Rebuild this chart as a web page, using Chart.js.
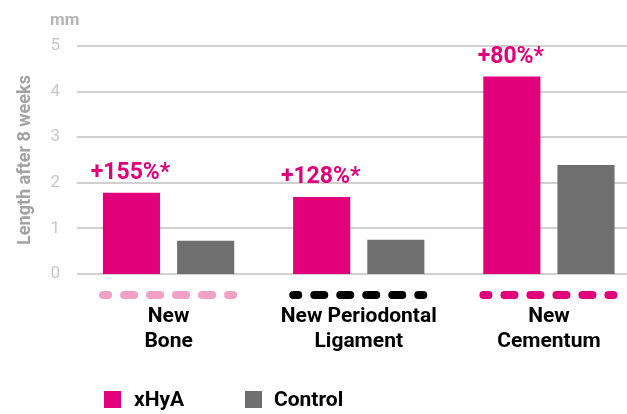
<!DOCTYPE html>
<html>
<head>
<meta charset="utf-8">
<script src="https://cdn.jsdelivr.net/npm/chart.js@4/dist/chart.umd.min.js"></script>
<style>
  html, body { margin: 0; padding: 0; background: #fff; overflow: hidden; width: 627px; height: 414px; }
  #wrap { position: relative; width: 627px; height: 414px; overflow: hidden; }
  canvas { position: absolute; left: 0; top: 0; }
  .leg { position: absolute; top: 389px; font-family: Roboto, sans-serif; font-weight: 700; font-size: 21px; color: #000; line-height: 21px; }
  .leg span.box { position: absolute; top: 2px; width: 17px; height: 17px; }
  .leg span.txt { position: absolute; top: 0; white-space: nowrap; }
</style>
</head>
<body>
<div id="wrap">
  <canvas id="c" width="644" height="414"></canvas>
</div>
<script>
const categories = [["New", "Bone"], ["New Periodontal", "Ligament"], ["New", "Cementum"]];
const seriesNames = ["xHyA", "Control"];
const xhyaValues = [1.78, 1.69, 4.33];
const controlValues = [0.73, 0.75, 2.39];
const annotations = ["+155%*", "+128%*", "+80%*"];
const yTicks = [0, 1, 2, 3, 4, 5];
const unitLabel = "mm";
const yAxisTitle = "Length after 8 weeks";

const MAGENTA = "#e2007a";
const GREY = "#6f6f6f";
const dashColors = ["#f1a0c6", "#000000", "#e2007a"];

const gridPlugin = {
  id: "gridPlugin",
  beforeDatasetsDraw(chart) {
    const ctx = chart.ctx, y = chart.scales.y;
    ctx.save();
    ctx.strokeStyle = "#d0d0d0";
    ctx.lineWidth = 2;
    yTicks.forEach(v => {
      const py = Math.round(y.getPixelForValue(v));
      ctx.beginPath();
      ctx.moveTo(77, py);
      ctx.lineTo(chart.width, py);
      ctx.stroke();
    });
    ctx.restore();
  }
};

const extrasPlugin = {
  id: "extrasPlugin",
  afterDraw(chart) {
    const ctx = chart.ctx, x = chart.scales.x;
    ctx.save();
    // unit label
    ctx.fillStyle = "#b5b5b5";
    ctx.font = "700 17px Roboto";
    ctx.textAlign = "left";
    ctx.textBaseline = "alphabetic";
    ctx.fillText(unitLabel, 50, 25);
    // annotations
    const meta = chart.getDatasetMeta(0);
    ctx.fillStyle = MAGENTA;
    ctx.font = "700 23px Roboto";
    ctx.textAlign = "center";
    meta.data.forEach((bar, i) => {
      ctx.fillText(annotations[i], bar.x - 1, bar.y - 14);
    });
    // dashed category markers
    ctx.lineCap = "round";
    ctx.lineWidth = 8;
    ctx.setLineDash([10, 16]);
    ctx.lineDashOffset = 5;
    categories.forEach((c, i) => {
      const cx = x.getPixelForValue(i);
      ctx.strokeStyle = dashColors[i];
      ctx.beginPath();
      ctx.moveTo(cx - 65.5, 295);
      ctx.lineTo(cx + 64.5, 295);
      ctx.stroke();
    });
    ctx.restore();
  }
};

const chart = new Chart(document.getElementById("c"), {
  type: "bar",
  data: {
    labels: categories,
    datasets: [
      { label: seriesNames[0], data: xhyaValues, backgroundColor: MAGENTA },
      { label: seriesNames[1], data: controlValues, backgroundColor: GREY }
    ]
  },
  options: {
    responsive: false,
    animation: false,
    layout: { padding: { top: 46, left: 0, right: 0, bottom: 0 } },
    plugins: { legend: { display: false }, tooltip: { enabled: false } },
    datasets: { bar: { categoryPercentage: 0.78, barPercentage: 0.77 } },
    scales: {
      x: {
        grid: { display: false, drawTicks: false },
        border: { display: false },
        ticks: { color: "#000", font: { family: "Roboto", size: 21, weight: "700", lineHeight: 1.2 }, padding: 30, maxRotation: 0, autoSkip: false },
        afterFit(scale) { scale.height = 140; }
      },
      y: {
        min: 0, max: 5,
        grid: { display: false, drawTicks: false },
        border: { display: false },
        ticks: { stepSize: 1, color: "#c8c8c8", font: { family: "Roboto", size: 17 }, padding: 13.5 },
        title: { display: true, text: yAxisTitle, color: "#a2a2a2", font: { family: "Roboto", size: 18, weight: "700" }, padding: { top: 15, bottom: 0 } },
        afterFit(scale) { scale.width = 73.5; }
      }
    }
  },
  plugins: [gridPlugin, extrasPlugin]
});

// legend built from the chart's datasets
const legendX = [[104, 134], [245, 274]];
chart.data.datasets.forEach((ds, i) => {
  const d = document.createElement("div");
  d.className = "leg";
  d.style.left = "0px";
  const b = document.createElement("span");
  b.className = "box";
  b.style.left = legendX[i][0] + "px";
  b.style.background = ds.backgroundColor;
  const t = document.createElement("span");
  t.className = "txt";
  t.style.left = legendX[i][1] + "px";
  t.textContent = ds.label;
  d.appendChild(b); d.appendChild(t);
  document.getElementById("wrap").appendChild(d);
});
</script>
</body>
</html>
